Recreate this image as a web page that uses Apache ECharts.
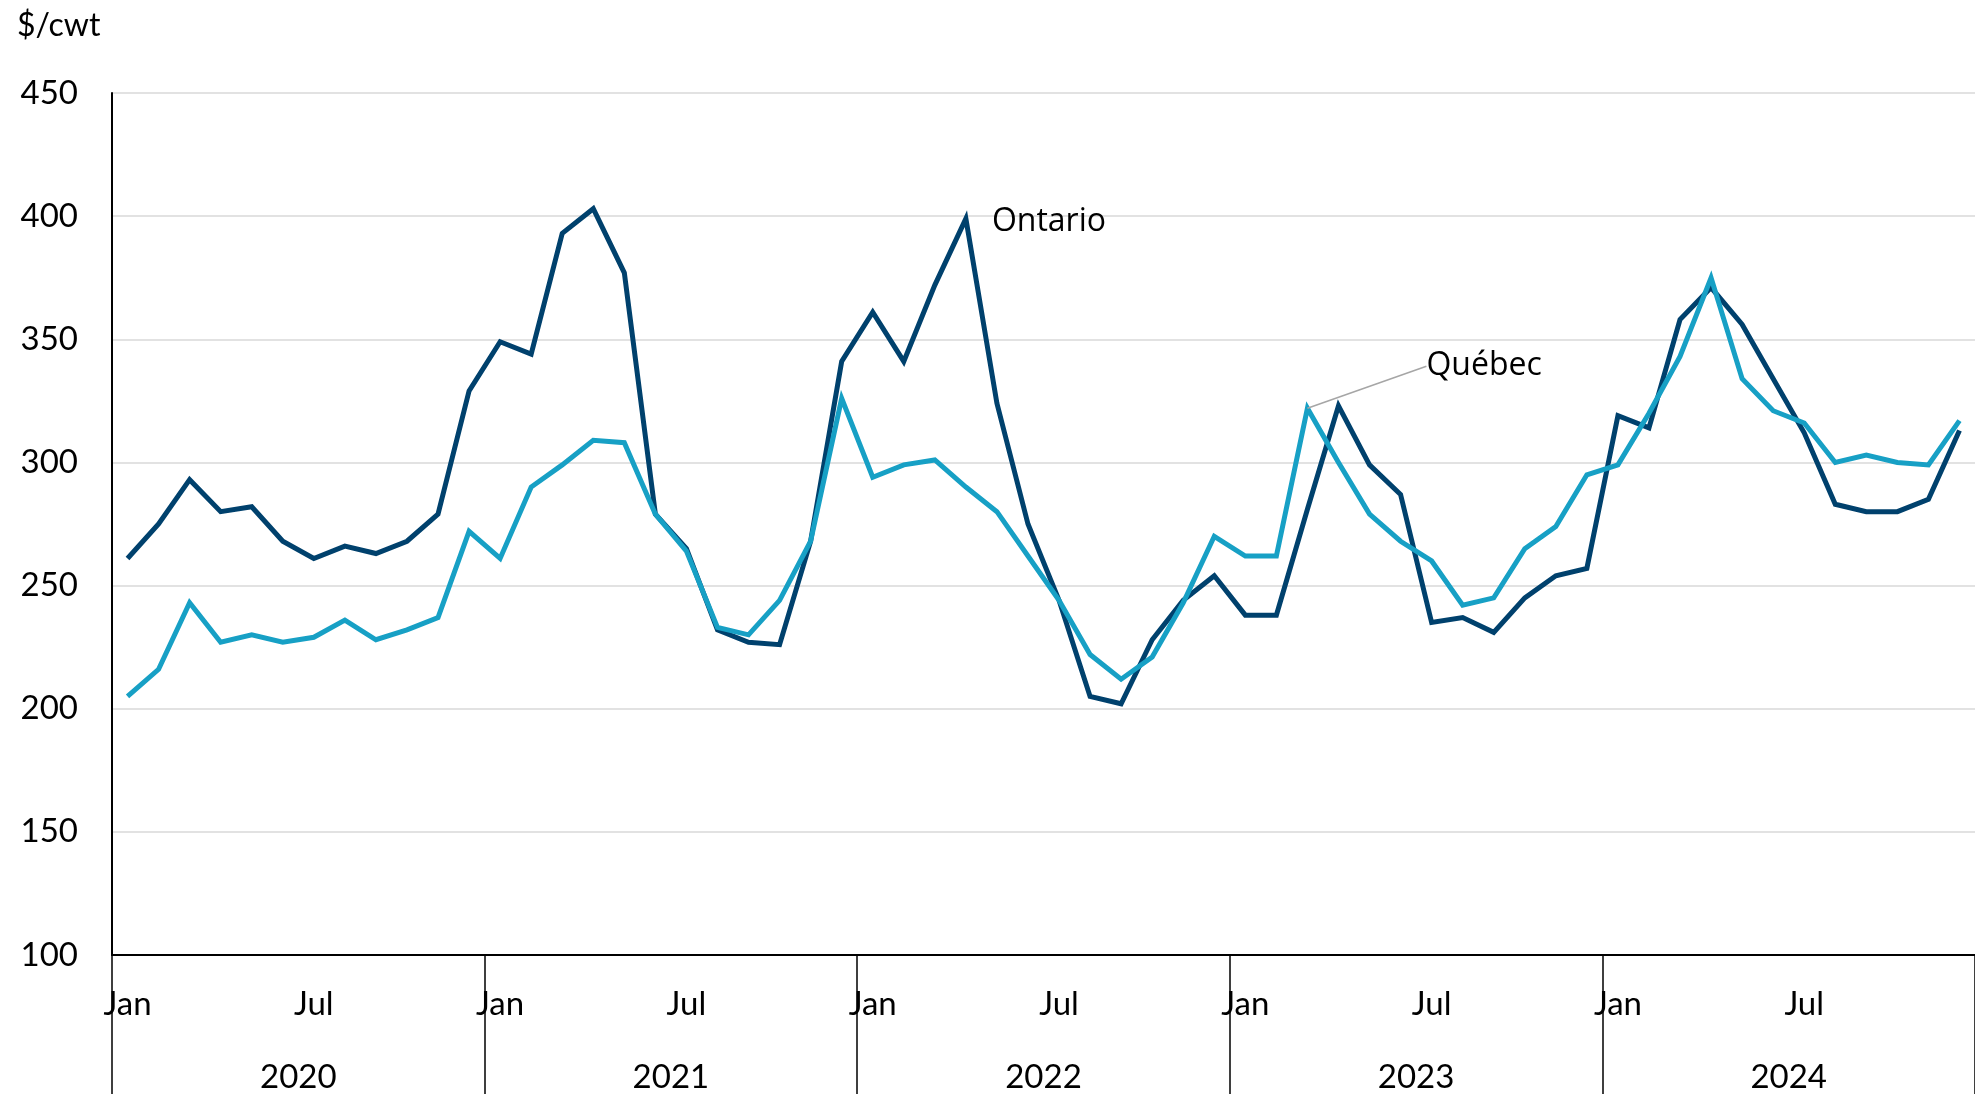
<!DOCTYPE html>
<html>
  <head>
    <meta charset="UTF-8">
    <title>Ontario / Québec $/cwt</title>
    <script src="https://cdn.jsdelivr.net/npm/echarts@6/dist/echarts.min.js"></script>
    <style>
      html, body { margin: 0; padding: 0; background: #fff; }
    </style>
  </head>
  <body>
    <div id="myChart" style="width: 1975px;height:1094px;"></div>
    <script type="text/javascript">
      // data, Jan 2020 .. Dec 2024
      var years = ['2020', '2021', '2022', '2023', '2024'];
      var months = ['Jan', 'Feb', 'Mar', 'Apr', 'May', 'Jun', 'Jul', 'Aug', 'Sep', 'Oct', 'Nov', 'Dec'];
      var yTicks = [100, 150, 200, 250, 300, 350, 400, 450];

      var ontario = [
        261, 275, 293, 280, 282, 268, 261, 266, 263, 268, 279, 329,
        349, 344, 393, 403, 377, 279, 265, 232, 227, 226, 268, 341,
        361, 341, 372, 399, 324, 275, 244, 205, 202, 228, 244, 254,
        238, 238, 281, 323, 299, 287, 235, 237, 231, 245, 254, 257,
        319, 314, 358, 371, 356, 334, 312, 283, 280, 280, 285, 313
      ];
      var quebec = [
        205, 216, 243, 227, 230, 227, 229, 236, 228, 232, 237, 272,
        261, 290, 299, 309, 308, 279, 264, 233, 230, 244, 268, 326,
        294, 299, 301, 290, 280, 262, 244, 222, 212, 221, 243, 270,
        262, 262, 322, 300, 279, 268, 260, 242, 245, 265, 274, 295,
        299, 320, 343, 375, 334, 321, 316, 300, 303, 300, 299, 317
      ];

      var ontarioLabelAt = 27;   // Apr 2022
      var quebecLabelAt = 38;    // Mar 2023

      var categories = [];
      years.forEach(function (y) {
        months.forEach(function (m) { categories.push(m + ' ' + y); });
      });

      function withLabel(values, idx, text) {
        return values.map(function (v, i) {
          if (i !== idx) return v;
          return { value: v, label: { show: true, formatter: text } };
        });
      }

      var myChart = echarts.init(document.getElementById('myChart'));

      var option = {
        animation: false,
        backgroundColor: '#fff',
        textStyle: { fontFamily: 'Lato' },
        title: {
          text: '$/cwt',
          left: 12,
          top: 5,
          textStyle: { fontFamily: 'Lato', fontSize: 32, fontWeight: 'normal', color: '#000' }
        },
        grid: { left: 112, right: 0, top: 93, bottom: 137, containLabel: false },
        xAxis: [
          {
            type: 'category',
            data: categories,
            position: 'bottom',
            boundaryGap: true,
            axisLine: { show: true, onZero: false, lineStyle: { color: '#000', width: 2 } },
            axisTick: { show: false },
            axisLabel: {
              interval: 0,
              margin: 33,
              fontFamily: 'Lato', fontSize: 33, color: '#000',
              formatter: function (val, idx) {
                var m = idx % 12;
                return (m === 0 || m === 6) ? months[m] : '';
              }
            },
            splitLine: { show: false }
          },
          {
            type: 'category',
            data: years,
            position: 'bottom',
            boundaryGap: true,
            axisLine: { show: false },
            axisTick: { show: true, length: 140, interval: 0, lineStyle: { color: '#000', width: 1.5 } },
            axisLabel: { interval: 0, margin: 106, fontFamily: 'Lato', fontSize: 33, color: '#000' },
            splitLine: { show: false }
          }
        ],
        yAxis: {
          type: 'value',
          min: yTicks[0],
          max: yTicks[yTicks.length - 1],
          interval: 50,
          axisLine: { show: true, lineStyle: { color: '#000', width: 2 } },
          axisTick: { show: false },
          axisLabel: { margin: 34, fontFamily: 'Lato', fontSize: 33, color: '#000' },
          splitLine: { show: true, lineStyle: { color: '#d9d9d9', width: 1.5 } }
        },
        series: [
          {
            name: 'Ontario',
            type: 'line',
            xAxisIndex: 0,
            data: withLabel(ontario, ontarioLabelAt, 'Ontario'),
            showSymbol: true,
            showAllSymbol: true,
            symbol: 'circle',
            symbolSize: 0,
            lineStyle: { color: '#00416d', width: 5, join: 'miter' },
            itemStyle: { color: '#00416d' },
            label: {
              show: false,
              position: 'right',
              distance: 26,
              offset: [0, 3],
              fontFamily: 'Open Sans', fontSize: 32, color: '#000'
            },
            z: 3
          },
          {
            name: 'Québec',
            type: 'line',
            xAxisIndex: 0,
            data: withLabel(quebec, quebecLabelAt, 'Québec'),
            showSymbol: true,
            showAllSymbol: true,
            symbol: 'circle',
            symbolSize: 0,
            lineStyle: { color: '#17a0c5', width: 5, join: 'miter' },
            itemStyle: { color: '#17a0c5' },
            label: {
              show: false,
              position: 'right',
              distance: 5,
              fontFamily: 'Open Sans', fontSize: 32, color: '#000'
            },
            labelLayout: { dx: 114, dy: -42 },
            labelLine: { show: true, length2: 12, lineStyle: { color: '#a6a6a6', width: 1.5 } },
            z: 4
          }
        ]
      };

      myChart.setOption(option);
    </script>
  </body>
</html>
